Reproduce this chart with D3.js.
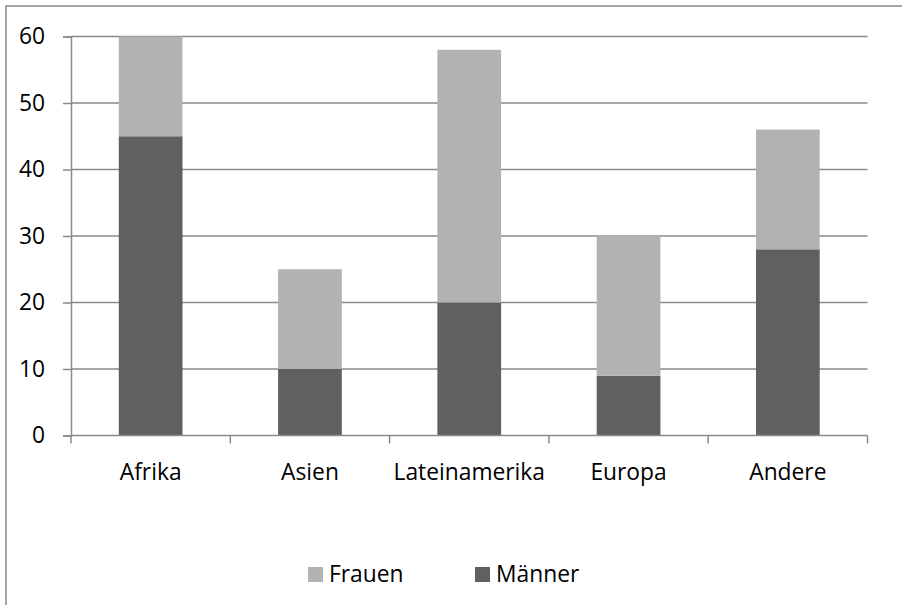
<!DOCTYPE html>
<html><head><meta charset="utf-8">
<script src="https://cdn.jsdelivr.net/npm/d3@7"></script>
<style>html,body{margin:0;padding:0;background:#fff;overflow:hidden}</style>
</head><body>
<svg id="c" width="902" height="605"></svg>
<script>
const categories = ["Afrika", "Asien", "Lateinamerika", "Europa", "Andere"];
const maenner = [45, 10, 20, 9, 28];
const frauen = [15, 15, 38, 21, 18];
const seriesNames = ["Männer", "Frauen"];
const legendNames = ["Frauen", "Männer"];
const yTicks = [0, 10, 20, 30, 40, 50, 60];
const colors = {"Männer": "#606060", "Frauen": "#b2b2b2"};

const FONT = "'Open Sans', sans-serif";
const FS = 22.8;
const svg = d3.select("#c");
const m = {left: 71, right: 867.5, top: 36.5, bottom: 435.5};

svg.append("rect").attr("x", 6).attr("y", 6).attr("width", 940).attr("height", 640)
  .attr("fill", "#fff").attr("stroke", "#888").attr("stroke-width", 1.5);

const x = d3.scaleBand().domain(categories).range([m.left, m.right])
  .paddingInner(0.6).paddingOuter(0.3);
const y = d3.scaleLinear().domain([0, 60]).range([m.bottom, m.top]);

// gridlines
svg.append("g").selectAll("line").data(yTicks.filter(d => d > 0)).join("line")
  .attr("x1", m.left).attr("x2", m.right)
  .attr("y1", d => y(d)).attr("y2", d => y(d))
  .attr("stroke", "#8a8a8a").attr("stroke-width", 1.5);

// stacked bars
const rows = categories.map((c, i) => ({cat: c, "Männer": maenner[i], "Frauen": frauen[i]}));
const stack = d3.stack().keys(seriesNames)(rows);
svg.append("g").selectAll("g").data(stack).join("g")
  .attr("fill", d => colors[d.key])
  .selectAll("rect").data(d => d).join("rect")
  .attr("x", d => x(d.data.cat)).attr("width", x.bandwidth())
  .attr("y", d => y(d[1])).attr("height", d => y(d[0]) - y(d[1]));

// y axis
const yAxis = d3.axisLeft(y).tickValues(yTicks).tickSize(8).tickPadding(18);
const gy = svg.append("g").attr("transform", `translate(${m.left},0)`).call(yAxis);
gy.select(".domain").attr("stroke", "#8a8a8a").attr("stroke-width", 1.5);
gy.selectAll(".tick line").attr("stroke", "#8a8a8a").attr("stroke-width", 1.5);
gy.selectAll(".tick text").attr("font-family", FONT).attr("font-size", FS).attr("fill", "#000");

// x axis
const xAxis = d3.axisBottom(x).tickSize(0).tickPadding(28);
const gx = svg.append("g").attr("transform", `translate(0,${m.bottom})`).call(xAxis);
gx.select(".domain").attr("stroke", "#8a8a8a").attr("stroke-width", 1.5)
  .attr("d", `M${m.left},0H${m.right}`);
gx.selectAll(".tick text").attr("font-family", FONT).attr("font-size", FS).attr("fill", "#000");
// boundary ticks
const bounds = d3.range(categories.length + 1).map(i => m.left + i * (m.right - m.left) / categories.length);
gx.append("g").selectAll("line").data(bounds).join("line")
  .attr("x1", d => d).attr("x2", d => d).attr("y1", 0).attr("y2", 8)
  .attr("stroke", "#8a8a8a").attr("stroke-width", 1.5);

// legend
const lg = svg.append("g");
const legX = [308, 475];
legendNames.forEach((n, i) => {
  lg.append("rect").attr("x", legX[i]).attr("y", 567).attr("width", 15).attr("height", 15).attr("fill", colors[n]);
  lg.append("text").attr("x", legX[i] + 21).attr("y", 582)
    .attr("font-family", FONT).attr("font-size", FS).attr("fill", "#000").text(n);
});
</script>
</body></html>
